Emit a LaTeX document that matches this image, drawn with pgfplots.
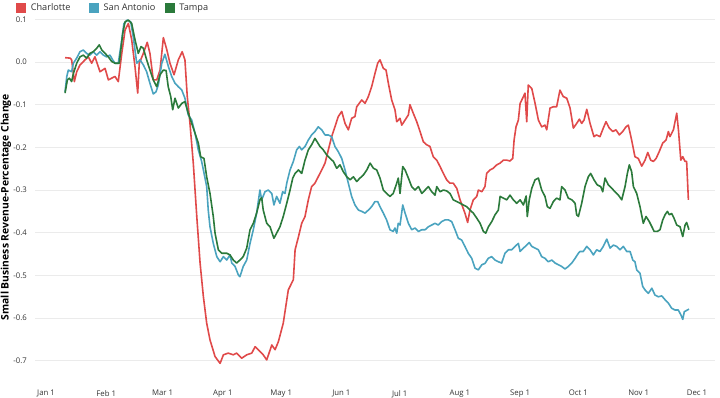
\documentclass[border=0pt]{standalone}
\usepackage{fontspec}
\setmainfont{Open Sans}
\usepackage{pgfplots}
\pgfplotsset{compat=1.18}
\usepackage{pgfplotstable}
\definecolor{cRed}{HTML}{E04A4A}
\definecolor{cBlue}{HTML}{4AA3BF}
\definecolor{cGreen}{HTML}{2B7A3B}
\definecolor{cText}{HTML}{333333}
\definecolor{cGrid}{HTML}{EBEBEB}

\pgfplotstableread{
day val
9.8 0.010
12.4 0.009
13.2 0.005
14.6 -0.046
15.8 -0.023
17.5 -0.007
20.1 0.005
21.8 0.012
23.5 -0.003
25.2 0.012
27.8 -0.023
30.4 -0.015
32.1 -0.042
33.8 -0.038
35.5 -0.034
37.2 -0.046
39.0 0.020
40.7 0.075
42.4 0.090
44.1 0.052
45.8 -0.011
47.2 -0.073
48.0 -0.003
50.1 0.020
52.1 0.046
53.5 0.020
55.2 -0.042
57.0 -0.042
58.7 -0.019
60.4 0.057
62.1 0.030
63.8 -0.003
65.9 -0.030
68.1 0.005
70.1 0.024
71.5 0.005
72.7 -0.081
74.1 -0.144
75.8 -0.237
77.6 -0.362
79.3 -0.471
81.0 -0.550
82.7 -0.612
84.4 -0.651
87.0 -0.690
89.6 -0.706
91.3 -0.686
93.8 -0.682
96.4 -0.686
98.1 -0.682
100.7 -0.694
103.3 -0.686
105.9 -0.682
107.6 -0.667
110.1 -0.678
111.8 -0.686
113.6 -0.698
116.2 -0.663
117.9 -0.674
119.6 -0.655
122.1 -0.612
124.7 -0.534
127.3 -0.510
128.2 -0.440
129.9 -0.410
131.6 -0.378
133.3 -0.362
135.0 -0.323
136.7 -0.292
138.4 -0.284
140.1 -0.269
141.9 -0.253
143.6 -0.237
145.3 -0.206
147.0 -0.175
148.7 -0.152
150.4 -0.128
152.2 -0.116
153.9 -0.144
155.6 -0.159
157.3 -0.132
159.0 -0.128
159.9 -0.105
162.5 -0.089
164.2 -0.097
165.9 -0.081
167.6 -0.058
169.3 -0.027
170.7 -0.003
171.9 0.005
173.6 -0.015
175.0 -0.019
176.2 -0.050
177.9 -0.089
179.6 -0.112
180.5 -0.140
182.2 -0.132
183.1 -0.148
184.8 -0.136
186.5 -0.124
187.3 -0.100
189.0 -0.120
190.8 -0.140
192.5 -0.163
194.2 -0.187
195.9 -0.194
197.6 -0.198
199.3 -0.222
201.1 -0.230
202.8 -0.245
204.5 -0.261
206.2 -0.276
207.9 -0.284
209.6 -0.284
211.4 -0.296
213.1 -0.323
215.6 -0.354
217.0 -0.376
218.2 -0.347
219.9 -0.323
221.7 -0.315
222.5 -0.300
224.3 -0.304
225.9 -0.292
226.8 -0.261
228.5 -0.253
230.2 -0.249
232.0 -0.241
233.7 -0.237
235.4 -0.230
237.1 -0.230
238.8 -0.232
240.2 -0.226
240.9 -0.183
241.9 -0.152
243.1 -0.136
244.0 -0.097
245.3 -0.085
246.5 -0.073
247.4 -0.140
248.2 -0.054
250.0 -0.062
251.7 -0.097
253.4 -0.136
255.1 -0.152
256.8 -0.148
257.7 -0.159
259.4 -0.108
261.1 -0.105
262.8 -0.105
264.5 -0.066
266.2 -0.081
268.0 -0.085
269.7 -0.108
271.4 -0.155
273.1 -0.144
274.5 -0.134
275.7 -0.144
276.9 -0.136
278.3 -0.111
280.0 -0.144
282.0 -0.175
283.3 -0.171
285.1 -0.175
286.8 -0.155
288.2 -0.140
289.9 -0.155
291.7 -0.163
293.3 -0.159
295.1 -0.171
296.8 -0.163
298.5 -0.152
299.7 -0.148
301.4 -0.183
303.1 -0.222
304.8 -0.226
306.6 -0.244
308.3 -0.230
309.7 -0.212
311.2 -0.230
312.6 -0.233
314.0 -0.226
315.6 -0.210
317.4 -0.190
319.1 -0.183
320.3 -0.163
321.1 -0.175
322.9 -0.159
324.6 -0.120
325.5 -0.160
326.7 -0.230
327.7 -0.222
328.9 -0.233
329.7 -0.233
330.6 -0.323
}\charlotte

\pgfplotstableread{
day val
9.8 -0.070
10.7 -0.034
11.5 -0.019
13.2 -0.023
14.1 -0.003
15.8 0.009
17.5 0.024
19.2 0.028
20.9 0.020
22.6 0.016
24.3 0.024
26.1 0.016
27.8 0.024
29.5 0.016
31.2 0.012
32.9 0.016
34.3 0.005
35.5 -0.003
37.2 -0.003
39.0 0.052
40.1 0.090
41.8 0.098
43.6 0.094
44.9 0.059
46.7 -0.003
48.4 0.005
50.1 -0.007
51.8 -0.023
53.5 -0.050
55.2 -0.075
56.6 -0.070
57.8 -0.054
59.6 -0.003
61.2 0.018
63.0 -0.011
64.7 -0.034
66.4 -0.050
68.1 -0.058
69.9 -0.066
71.5 -0.085
73.2 -0.124
75.0 -0.136
76.7 -0.167
78.4 -0.206
80.1 -0.233
81.0 -0.253
82.7 -0.292
83.5 -0.347
84.4 -0.386
86.1 -0.425
87.9 -0.456
89.6 -0.468
91.3 -0.456
93.0 -0.464
94.7 -0.452
95.6 -0.471
97.3 -0.479
99.0 -0.499
99.8 -0.503
101.5 -0.479
103.3 -0.464
105.0 -0.425
106.7 -0.393
108.4 -0.354
110.1 -0.300
111.0 -0.323
112.7 -0.304
114.4 -0.300
116.2 -0.308
117.3 -0.335
118.7 -0.315
120.4 -0.331
121.8 -0.304
123.0 -0.308
123.9 -0.284
125.6 -0.253
127.3 -0.233
129.0 -0.206
130.4 -0.198
131.6 -0.206
133.3 -0.198
135.0 -0.183
136.7 -0.171
138.4 -0.163
140.1 -0.152
141.9 -0.159
143.6 -0.171
145.3 -0.171
147.0 -0.175
148.7 -0.198
150.4 -0.210
152.2 -0.226
153.9 -0.253
155.6 -0.284
157.3 -0.315
159.0 -0.335
160.8 -0.347
162.5 -0.350
164.2 -0.354
165.9 -0.347
167.6 -0.339
169.3 -0.327
170.7 -0.327
171.9 -0.339
173.6 -0.354
175.3 -0.370
177.0 -0.393
178.7 -0.397
179.6 -0.389
180.5 -0.401
181.3 -0.378
182.2 -0.382
183.6 -0.335
184.8 -0.354
186.5 -0.378
188.2 -0.393
189.9 -0.389
191.7 -0.397
193.4 -0.393
195.1 -0.393
196.8 -0.386
198.5 -0.382
200.2 -0.378
201.9 -0.382
203.6 -0.374
205.4 -0.370
207.1 -0.370
208.8 -0.374
210.5 -0.393
212.2 -0.413
213.9 -0.417
215.6 -0.432
217.3 -0.448
219.1 -0.460
220.8 -0.483
222.5 -0.487
224.3 -0.475
225.9 -0.472
227.6 -0.460
229.4 -0.456
231.1 -0.464
232.8 -0.468
234.5 -0.471
236.2 -0.448
238.0 -0.440
239.7 -0.440
241.4 -0.432
243.1 -0.425
244.0 -0.444
245.7 -0.436
247.4 -0.429
248.7 -0.423
250.0 -0.432
251.7 -0.436
253.4 -0.440
255.1 -0.456
256.8 -0.460
258.5 -0.468
260.3 -0.464
262.0 -0.471
263.7 -0.475
265.4 -0.479
267.1 -0.485
268.8 -0.479
270.6 -0.471
272.3 -0.460
274.0 -0.448
274.8 -0.444
276.5 -0.444
278.3 -0.432
280.0 -0.440
281.7 -0.452
283.4 -0.440
285.1 -0.444
286.8 -0.432
288.6 -0.415
290.3 -0.436
292.0 -0.429
293.7 -0.432
295.4 -0.440
297.1 -0.432
298.9 -0.444
300.6 -0.444
302.0 -0.464
303.1 -0.468
304.0 -0.487
305.7 -0.495
307.1 -0.526
308.3 -0.534
310.0 -0.542
311.8 -0.530
313.4 -0.546
315.1 -0.550
316.9 -0.548
318.6 -0.557
320.3 -0.565
322.0 -0.577
323.7 -0.581
325.4 -0.581
326.8 -0.593
327.7 -0.603
328.5 -0.585
329.7 -0.582
330.9 -0.579
}\sanantonio

\pgfplotstableread{
day val
9.8 -0.073
11.0 -0.042
12.0 -0.038
13.2 -0.046
14.1 -0.027
15.8 -0.003
17.5 0.012
19.2 0.016
20.9 0.009
22.6 0.020
24.3 0.024
26.1 0.032
27.4 0.040
28.7 0.028
30.4 0.020
32.1 0.012
33.8 0.001
35.5 -0.003
37.7 -0.003
39.5 0.067
40.7 0.094
42.4 0.098
44.1 0.090
45.8 0.052
47.5 0.020
48.9 0.036
50.1 0.032
51.8 0.005
53.5 -0.019
55.2 -0.042
57.0 -0.058
58.7 -0.030
60.4 -0.019
61.8 -0.020
62.9 -0.058
64.2 -0.081
65.2 -0.112
66.4 -0.085
68.1 -0.108
69.9 -0.097
71.5 -0.093
73.2 -0.120
75.0 -0.144
76.7 -0.167
78.4 -0.190
79.6 -0.222
81.3 -0.226
82.7 -0.269
84.4 -0.308
86.1 -0.362
87.0 -0.401
88.7 -0.440
90.4 -0.448
93.0 -0.448
94.7 -0.452
96.4 -0.464
98.1 -0.471
99.8 -0.464
101.5 -0.456
103.3 -0.436
105.0 -0.393
106.7 -0.378
108.4 -0.354
110.1 -0.323
111.0 -0.318
111.8 -0.347
113.6 -0.378
115.3 -0.386
117.3 -0.413
118.7 -0.401
120.4 -0.386
122.1 -0.362
123.9 -0.331
125.6 -0.300
127.0 -0.272
128.2 -0.261
129.9 -0.253
131.6 -0.261
133.3 -0.230
135.0 -0.206
136.7 -0.194
138.4 -0.179
139.8 -0.189
141.0 -0.198
142.7 -0.206
144.5 -0.218
146.2 -0.226
147.9 -0.233
149.6 -0.249
151.3 -0.241
153.0 -0.257
154.8 -0.269
156.5 -0.276
158.2 -0.269
159.9 -0.280
161.6 -0.272
163.3 -0.265
165.1 -0.253
166.8 -0.237
168.5 -0.249
170.2 -0.253
171.9 -0.272
173.6 -0.300
175.3 -0.308
177.0 -0.315
178.7 -0.308
180.5 -0.284
181.3 -0.272
182.2 -0.308
183.6 -0.245
184.8 -0.253
186.5 -0.272
188.2 -0.292
189.9 -0.300
191.7 -0.292
193.4 -0.308
195.1 -0.300
196.8 -0.292
198.5 -0.304
200.2 -0.312
201.1 -0.292
202.8 -0.304
204.5 -0.300
206.2 -0.302
207.9 -0.308
209.6 -0.323
211.4 -0.327
213.1 -0.331
214.8 -0.335
216.5 -0.339
218.2 -0.347
219.9 -0.354
221.7 -0.366
223.4 -0.378
225.1 -0.397
226.3 -0.401
227.7 -0.386
229.4 -0.374
231.1 -0.358
232.8 -0.347
233.7 -0.315
235.4 -0.319
237.1 -0.323
238.8 -0.312
240.5 -0.323
242.2 -0.331
244.0 -0.323
245.7 -0.335
247.1 -0.314
247.7 -0.362
248.7 -0.323
250.0 -0.296
251.7 -0.276
253.4 -0.272
255.1 -0.300
256.8 -0.315
258.0 -0.339
259.4 -0.343
261.1 -0.327
262.8 -0.319
264.5 -0.323
265.4 -0.292
267.1 -0.300
268.8 -0.319
270.6 -0.323
272.3 -0.331
273.1 -0.358
274.0 -0.362
275.7 -0.331
277.4 -0.292
279.1 -0.269
280.3 -0.261
282.0 -0.276
283.7 -0.288
285.5 -0.292
286.5 -0.304
287.7 -0.272
289.4 -0.288
291.2 -0.296
292.8 -0.304
294.6 -0.312
296.3 -0.323
298.0 -0.292
299.2 -0.261
300.2 -0.241
301.4 -0.257
302.3 -0.292
304.0 -0.308
305.7 -0.339
307.4 -0.378
308.8 -0.362
310.5 -0.374
311.8 -0.386
313.0 -0.397
314.6 -0.397
316.0 -0.393
317.4 -0.370
318.6 -0.358
319.8 -0.350
320.8 -0.358
322.0 -0.355
323.2 -0.366
324.6 -0.382
326.3 -0.386
327.7 -0.409
328.9 -0.382
329.7 -0.376
330.9 -0.393
}\tampa

\begin{document}
\begin{tikzpicture}
\useasboundingbox (0,0) rectangle (720bp,398bp);
\begin{axis}[
  at={(35bp,15bp)}, anchor=south west,
  scale only axis, width=680bp, height=371bp,
  xmin=-5.66, xmax=344.3, ymin=-0.752, ymax=0.117,
  axis line style={draw=none},
  major tick length=0pt,
  xtick={0,31,60,91,121,152,182,213,244,274,305,335},
  xticklabels={Jan 1,Feb 1,Mar 1,Apr 1,May 1,Jun 1,Jul 1,Aug 1,Sep 1,Oct 1,Nov 1,Dec 1},
  ytick={-0.7,-0.6,-0.5,-0.4,-0.3,-0.2,-0.1,0,0.1},
  yticklabels={-0.7,-0.6,-0.5,-0.4,-0.3,-0.2,-0.1,0.0,0.1},
  ymajorgrids, major grid style={draw=cGrid, line width=0.8bp},
  tick label style={font=\fontsize{7.8}{9}\selectfont, text=cText, inner sep=0pt},
  xticklabel shift=7bp,
  yticklabel shift=8bp,
  ylabel={\bfseries Small Business Revenue-Percentage Change},
  ylabel style={at={(axis description cs:-0.0426,0.474)}, anchor=center, font=\fontsize{10.4}{12}\selectfont, text=black},
  legend style={at={(axis description cs:-0.0279,1.024)}, anchor=north west, draw=none, fill=none, inner sep=0pt, outer sep=0pt,
    font=\fontsize{9.2}{11}\selectfont, text=cText, column sep=0pt,
    nodes={inner sep=0pt, anchor=west}},
  legend columns=-1,
  legend image code/.code={\fill[#1, draw=none] (0bp,-5bp) rectangle (10bp,5bp); \path (14bp,0bp);},
  every axis plot/.append style={line width=1.6bp, line join=round},
]
\addplot[cRed, mark=none] table[x=day, y=val] {\charlotte};
\addlegendentry{\makebox[58bp][l]{Charlotte}}
\addplot[cBlue, mark=none] table[x=day, y=val] {\sanantonio};
\addlegendentry{\makebox[61bp][l]{San Antonio}}
\addplot[cGreen, mark=none] table[x=day, y=val] {\tampa};
\addlegendentry{Tampa}
\end{axis}
\end{tikzpicture}
\end{document}
